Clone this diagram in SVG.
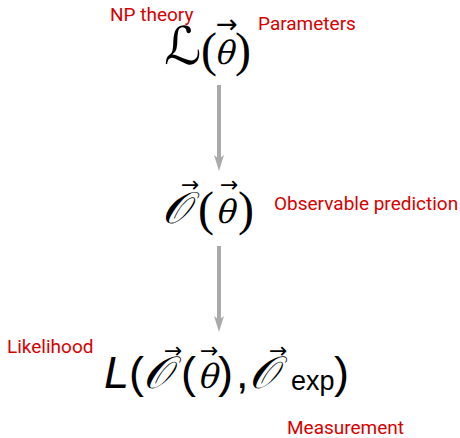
<svg xmlns="http://www.w3.org/2000/svg" width="460" height="438" viewBox="0 0 460 438">
<style>
.lbl{font-family:Roboto,"Liberation Sans",sans-serif;font-size:19px;fill:#d60000}
.cal{font-family:"DejaVu Serif","DejaVu Sans",serif;font-style:italic;fill:#000}
.ser{font-family:"Liberation Serif",serif;fill:#000}
.it{font-family:"DejaVu Serif",serif;fill:#000}
.sans{font-family:"Liberation Sans",Arial,sans-serif;fill:#000}
.vec{font-family:"DejaVu Sans",sans-serif;fill:#000}
.conn{stroke:#aaaaaa;stroke-width:4;fill:none}
.head{fill:#aaaaaa}
</style>
<rect width="460" height="438" fill="#fff"/>
<g id="connectors">
<line class="conn" x1="219" y1="85" x2="219" y2="160"/>
<polygon class="head" points="219,171 214,155 219,159 224,155"/>
<line class="conn" x1="219" y1="246" x2="219" y2="321"/>
<polygon class="head" points="219,332 214,316 219,320 224,316"/>
</g>
<g id="theory">
<text class="cal" x="164" y="64" font-size="52" font-style="normal">ℒ</text>
<text class="ser" x="201" y="66" font-size="48">(</text>
<text class="it" transform="translate(214,64) skewX(-15)" font-size="32">θ</text>
<text class="ser" x="235" y="66" font-size="48">)</text>
<text class="vec" x="216" y="33" font-size="26">→</text>
<text class="lbl" x="110" y="21">NP theory</text>
<text class="lbl" x="258" y="30">Parameters</text>
</g>
<g id="prediction">
<text class="cal" x="162" y="223" font-size="44">𝒪</text>
<text class="vec" x="181" y="192" font-size="22">→</text>
<text class="ser" x="198" y="225" font-size="48">(</text>
<text class="it" transform="translate(215,223) skewX(-15)" font-size="32">θ</text>
<text class="ser" x="238" y="225" font-size="48">)</text>
<text class="vec" x="220" y="192" font-size="22">→</text>
<text class="lbl" x="274" y="210">Observable prediction</text>
</g>
<g id="likelihood">
<text class="sans" x="104" y="388" font-size="45" font-style="italic">L</text>
<text class="sans" x="129" y="388" font-size="45">(</text>
<text class="cal" x="143" y="388" font-size="45">𝒪</text>
<text class="vec" x="164" y="358" font-size="22">→</text>
<text class="sans" x="181" y="388" font-size="45">(</text>
<text class="it" transform="translate(197,388) skewX(-15)" font-size="33">θ</text>
<text class="vec" x="200" y="358" font-size="22">→</text>
<text class="sans" x="218" y="388" font-size="45">)</text>
<text class="sans" x="236" y="388" font-size="45">,</text>
<text class="cal" x="249" y="388" font-size="45">𝒪</text>
<text class="vec" x="269" y="358" font-size="22">→</text>
<text class="sans" x="291" y="390" font-size="27">exp</text>
<text class="sans" x="334" y="388" font-size="45">)</text>
<text class="lbl" x="7" y="353">Likelihood</text>
<text class="lbl" x="287" y="434">Measurement</text>
</g>
</svg>
